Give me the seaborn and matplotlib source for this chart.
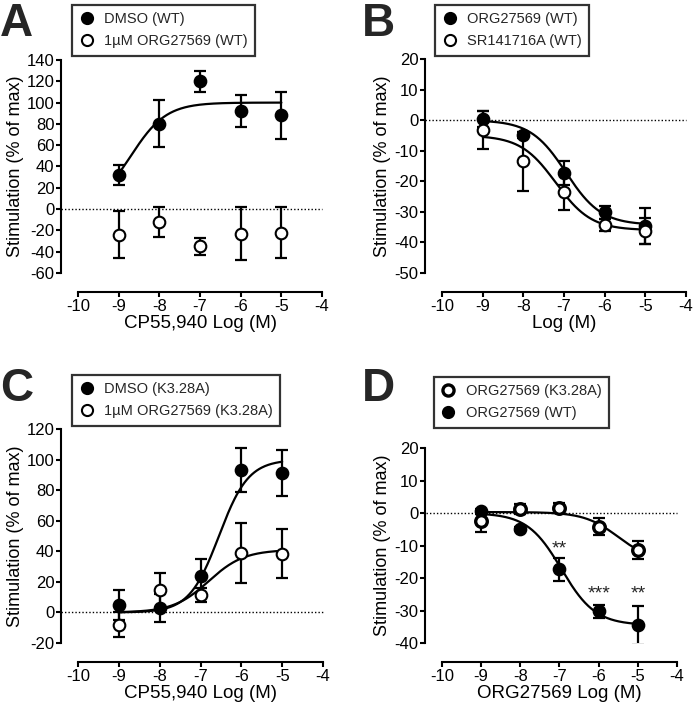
import numpy as np
import matplotlib
matplotlib.use("Agg")
import matplotlib.pyplot as plt
from matplotlib.lines import Line2D
import pandas as pd
import seaborn as sns

sns.set_style("ticks")
plt.rcParams["font.family"] = ["Liberation Sans", "DejaVu Sans"]
plt.rcParams["axes.unicode_minus"] = False

log_conc = [-9, -8, -7, -6, -5]

# Panel A
a_dmso = [32, 80, 120, 92, 88]
a_dmso_err = [9, 22, 10, 15, 22]
a_org = [-24, -12, -35, -23, -22]
a_org_err = [22, 14, 8, 25, 24]

# Panel B
b_org = [0.5, -4.8, -17.3, -30.2, -34.6]
b_org_err = [2.6, 1.0, 3.8, 2.0, 6.0]
b_sr = [-3.2, -13.5, -23.5, -34.2, -36.2]
b_sr_err = [6.2, 9.6, 6.0, 2.0, 4.2]

# Panel C
c_dmso = [5, 3, 24, 93, 91]
c_dmso_err = [10, 9, 11, 14.5, 15]
c_org = [-8, 14.5, 11.5, 39, 38.5]
c_org_err = [8, 11, 4.5, 19.5, 16]

# Panel D
d_k328 = [-2.6, 1.3, 1.5, -4.2, -11.4]
d_k328_err = [3.2, 1.6, 1.6, 2.6, 2.8]
d_wt = [0.5, -4.8, -17.3, -30.2, -34.6]
d_wt_err = [0.8, 0.6, 3.6, 2.0, 6.0]
d_stars = ["", "", "**", "***", "**"]
d_star_y = [0, 0, -11.0, -24.8, -24.8]

# fitted 4PL parameters: bottom, top, logEC50, hill
fit_a_dmso = (0, 100, -8.7, 1.0)
fit_b_org = (-34.3, 0.0, -6.95, 1.0)
fit_b_sr = (-36.0, -5.0, -7.2, 1.0)
fit_c_dmso = (0, 100, -6.55, 1.2)
fit_c_org = (0, 41, -6.8, 1.0)
fit_d_k328 = (-15.0, 0.3, -5.5, 1.0)
fit_d_wt = (-34.5, 0.0, -6.95, 1.0)


def curve(params):
    bottom, top, ec50, hill = params
    x = np.linspace(-9, -5, 200)
    y = bottom + (top - bottom) / (1 + 10 ** ((ec50 - x) * hill))
    return pd.DataFrame({"x": x, "y": y})


def curve_down(params):
    bottom, top, ec50, hill = params
    x = np.linspace(-9, -5, 200)
    y = bottom + (top - bottom) / (1 + 10 ** ((x - ec50) * hill))
    return pd.DataFrame({"x": x, "y": y})


def draw_series(ax, y, err, filled, mew=1.5):
    ax.errorbar(log_conc, y, yerr=err, fmt="none", ecolor="black",
                elinewidth=1.6, capsize=4, capthick=1.6, zorder=3)
    df = pd.DataFrame({"x": log_conc, "y": y})
    sns.scatterplot(data=df, x="x", y="y", ax=ax, s=70, zorder=4,
                    color="black" if filled else "white",
                    edgecolor="black", linewidth=mew)


def draw_fit(ax, df):
    sns.lineplot(data=df, x="x", y="y", ax=ax, color="black", lw=1.6,
                 zorder=2)


def style_axes(ax, ylim, yticks, xlabel):
    ax.set_xlim(-10, -4)
    ax.set_ylim(*ylim)
    ax.set_xticks(range(-10, -3))
    ax.set_yticks(yticks)
    ax.axhline(0, xmin=-0.07, xmax=1, color="black", ls=(0, (1, 1.5)),
               lw=1.0, clip_on=False, zorder=1)
    sns.despine(ax=ax)
    ax.spines["left"].set_position(("outward", 12))
    ax.spines["bottom"].set_position(("outward", 14))
    for s in ("left", "bottom"):
        ax.spines[s].set_linewidth(1.5)
        ax.spines[s].set_color("black")
    ax.tick_params(direction="out", length=3.5, width=1.5, labelsize=12,
                   colors="black", pad=1.5)
    ax.set_xlabel(xlabel, fontsize=13.5, labelpad=0.5, color="black")
    ax.set_ylabel("Stimulation (% of max)", fontsize=13, labelpad=2,
                  color="black")


def add_legend(ax, fig, entries, anchor):
    handles = []
    for label, filled, mew in entries:
        handles.append(Line2D([], [], ls="none", marker="o", markersize=8,
                              markerfacecolor="black" if filled else "white",
                              markeredgecolor="black", markeredgewidth=mew,
                              label=label))
    leg = ax.legend(handles=handles, loc="upper left", bbox_to_anchor=anchor,
                    bbox_transform=fig.transFigure, fontsize=10.5,
                    frameon=True, fancybox=False, borderaxespad=0,
                    handlelength=1.0, handletextpad=0.7, labelspacing=0.55,
                    borderpad=0.5)
    leg.get_frame().set_edgecolor("black")
    leg.get_frame().set_linewidth(1.6)


fig = plt.figure(figsize=(6.93, 7.05), dpi=100)

axA = fig.add_axes([0.1126, 0.6128, 0.3521, 0.3021])
axB = fig.add_axes([0.6378, 0.6128, 0.3521, 0.3035])
axC = fig.add_axes([0.1126, 0.0879, 0.3535, 0.3035])
axD = fig.add_axes([0.6378, 0.0879, 0.3391, 0.2766])

# A
draw_fit(axA, curve(fit_a_dmso))
draw_series(axA, a_dmso, a_dmso_err, True)
draw_series(axA, a_org, a_org_err, False)
style_axes(axA, (-60, 140), range(-60, 141, 20), "CP55,940 Log (M)")
add_legend(axA, fig, [("DMSO (WT)", True, 1.5),
                      ("1µM ORG27569 (WT)", False, 1.5)], (0.104, 0.993))

# B
draw_fit(axB, curve_down(fit_b_org))
draw_fit(axB, curve_down(fit_b_sr))
draw_series(axB, b_org, b_org_err, True)
draw_series(axB, b_sr, b_sr_err, False)
style_axes(axB, (-50, 20), range(-50, 21, 10), "Log (M)")
add_legend(axB, fig, [("ORG27569 (WT)", True, 1.5),
                      ("SR141716A (WT)", False, 1.5)], (0.628, 0.993))

# C
draw_fit(axC, curve(fit_c_dmso))
draw_fit(axC, curve(fit_c_org))
draw_series(axC, c_dmso, c_dmso_err, True)
draw_series(axC, c_org, c_org_err, False)
style_axes(axC, (-20, 120), range(-20, 121, 20), "CP55,940 Log (M)")
add_legend(axC, fig, [("DMSO (K3.28A)", True, 1.5),
                      ("1µM ORG27569 (K3.28A)", False, 1.5)], (0.104, 0.468))

# D
draw_fit(axD, curve_down(fit_d_k328))
draw_fit(axD, curve_down(fit_d_wt))
draw_series(axD, d_wt, d_wt_err, True)
draw_series(axD, d_k328, d_k328_err, False, mew=2.4)
for x, s, y in zip(log_conc, d_stars, d_star_y):
    if s:
        axD.text(x, y, s, ha="center", va="center", fontsize=14)
style_axes(axD, (-40, 20), range(-40, 21, 10), "ORG27569 Log (M)")
add_legend(axD, fig, [("ORG27569 (K3.28A)", False, 2.4),
                      ("ORG27569 (WT)", True, 1.5)], (0.626, 0.465))

# panel letters
for label, x, y in [("A", 0.0, 0.997), ("B", 0.522, 0.997),
                    ("C", 0.0, 0.480), ("D", 0.522, 0.480)]:
    fig.text(x, y, label, fontsize=33, fontweight="bold", ha="left",
             va="top")

fig.savefig("out.png", dpi=100)
